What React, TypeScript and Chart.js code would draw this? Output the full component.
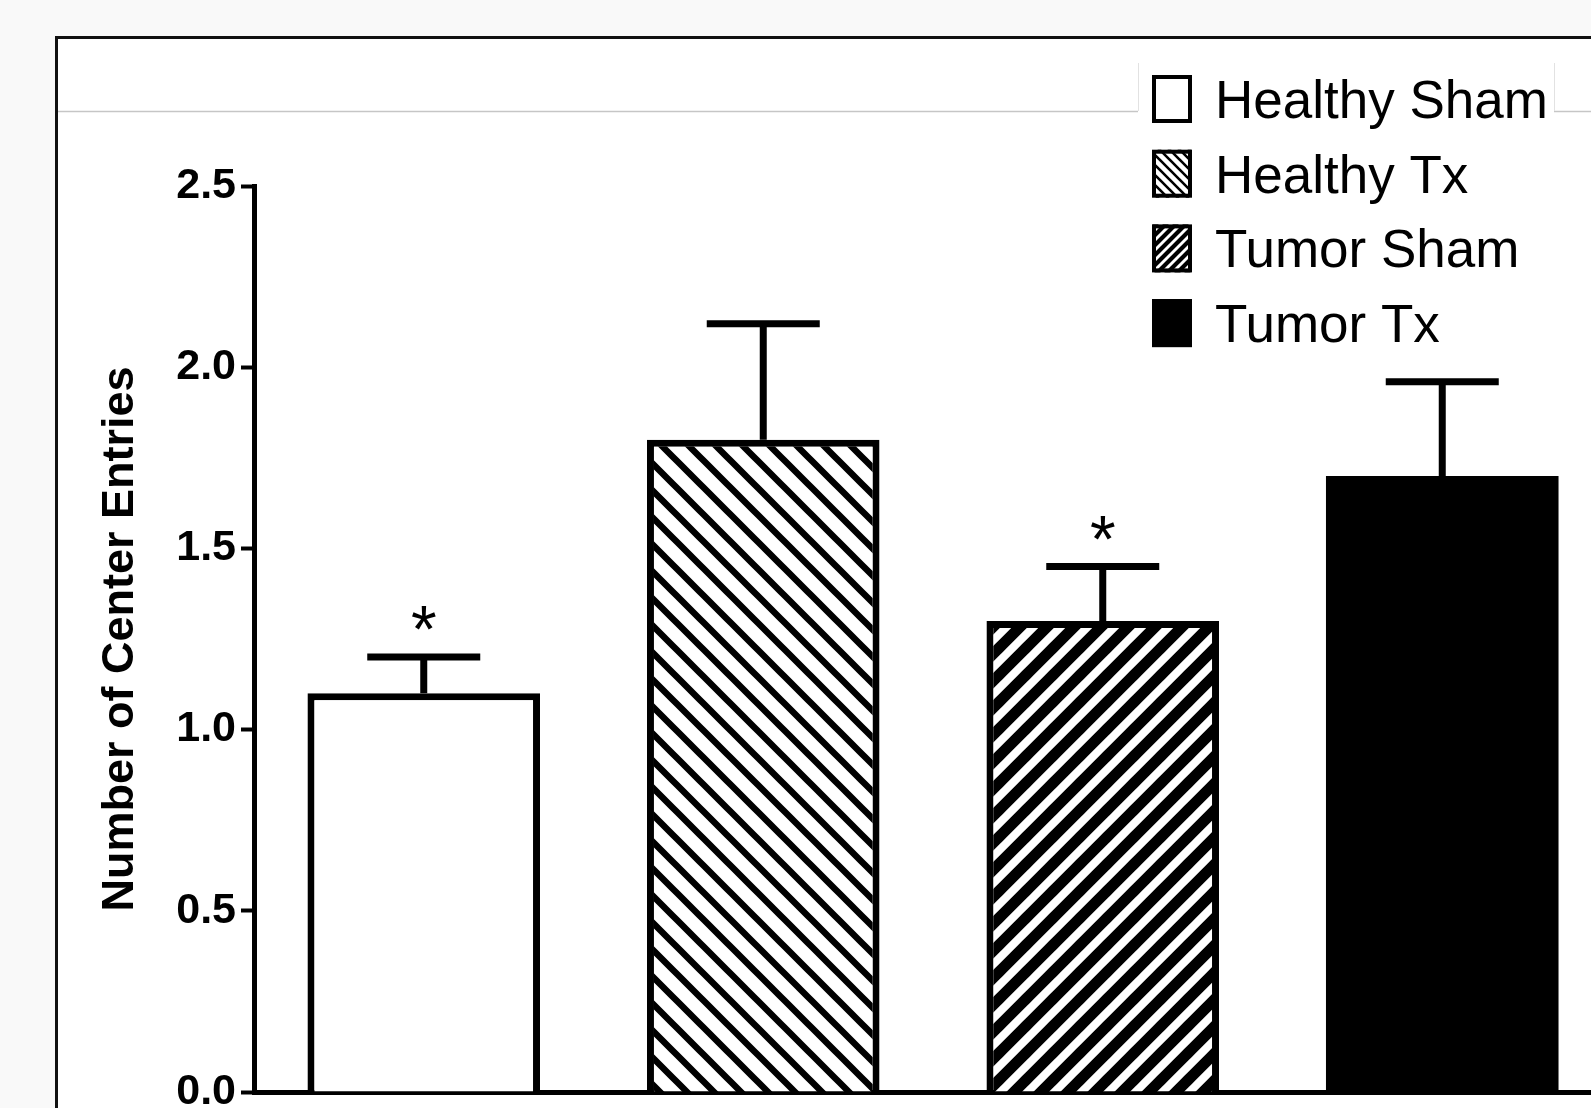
import React, { useEffect, useRef } from 'react';
import { Chart, registerables } from 'chart.js';

Chart.register(...registerables);

// ---- data ----
const categories = ['Healthy Sham', 'Healthy Tx', 'Tumor Sham', 'Tumor Tx'];
const meanValues = [1.1, 1.8, 1.3, 1.7];
const semValues = [0.1, 0.32, 0.15, 0.26];
const significant = [true, false, true, false];
const yTickValues = [0, 0.5, 1.0, 1.5, 2.0, 2.5];
const yAxisTitle = 'Number of Center Entries';

const FONT = "'Liberation Sans', Arial, Helvetica, sans-serif";

function stripe(
  ctx: CanvasRenderingContext2D,
  dir: 'back' | 'fwd',
  period: number,
  lw: number
): CanvasPattern {
  const c = document.createElement('canvas');
  c.width = period;
  c.height = period;
  const g = c.getContext('2d')!;
  g.fillStyle = '#ffffff';
  g.fillRect(0, 0, period, period);
  g.strokeStyle = '#000000';
  g.lineWidth = lw;
  g.lineCap = 'square';
  g.beginPath();
  for (const o of [-period, 0, period]) {
    if (dir === 'back') {
      g.moveTo(o, 0);
      g.lineTo(o + period, period);
    } else {
      g.moveTo(o, period);
      g.lineTo(o + period, 0);
    }
  }
  g.stroke();
  return ctx.createPattern(c, 'repeat')!;
}

export default function App() {
  const ref = useRef<HTMLCanvasElement>(null);

  useEffect(() => {
    const canvas = ref.current!;
    const ctx = canvas.getContext('2d')!;
    const barFills: (string | CanvasPattern)[] = [
      '#ffffff',
      stripe(ctx, 'back', 27, 6.5),
      stripe(ctx, 'fwd', 27, 11),
      '#000000',
    ];
    const legendFills: (string | CanvasPattern)[] = [
      '#ffffff',
      stripe(ctx, 'back', 10, 2.6),
      stripe(ctx, 'fwd', 10, 4.2),
      '#000000',
    ];

    const framePlugin = {
      id: 'frame',
      beforeDraw(chart: any) {
        const { ctx: c, width, height } = chart;
        c.save();
        c.fillStyle = '#f9f9f9';
        c.fillRect(0, 0, width, height);
        c.fillStyle = '#ffffff';
        c.fillRect(56, 37, width, height);
        c.strokeStyle = '#111111';
        c.lineWidth = 3;
        c.beginPath();
        c.moveTo(56.5, height + 5);
        c.lineTo(56.5, 37.5);
        c.lineTo(width + 5, 37.5);
        c.stroke();
        c.strokeStyle = '#c6c6c6';
        c.lineWidth = 1.5;
        c.beginPath();
        c.moveTo(58, 111.5);
        c.lineTo(1138, 111.5);
        c.moveTo(1554, 111.5);
        c.lineTo(width, 111.5);
        c.stroke();
        c.strokeStyle = '#e2e2e2';
        c.lineWidth = 1;
        c.beginPath();
        c.moveTo(1138.5, 63);
        c.lineTo(1138.5, 111);
        c.moveTo(1554.5, 63);
        c.lineTo(1554.5, 111);
        c.stroke();
        c.restore();
      },
    };

    const errorBarPlugin = {
      id: 'errorBars',
      afterDatasetsDraw(chart: any) {
        const meta = chart.getDatasetMeta(0);
        const yScale = chart.scales.y;
        const c = chart.ctx;
        c.save();
        c.strokeStyle = '#000000';
        c.fillStyle = '#000000';
        c.lineWidth = 7;
        c.lineCap = 'butt';
        meta.data.forEach((bar: any, i: number) => {
          const top = yScale.getPixelForValue(meanValues[i]);
          const cap = yScale.getPixelForValue(meanValues[i] + semValues[i]);
          const half = 56.5;
          c.beginPath();
          c.moveTo(bar.x, top);
          c.lineTo(bar.x, cap);
          c.moveTo(bar.x - half, cap);
          c.lineTo(bar.x + half, cap);
          c.stroke();
          if (significant[i]) {
            c.font = `66px ${FONT}`;
            c.textAlign = 'center';
            c.textBaseline = 'alphabetic';
            c.fillText('*', bar.x, cap - 5);
          }
        });
        c.restore();
      },
    };

    const legendPlugin = {
      id: 'customLegend',
      afterDraw(chart: any) {
        const c = chart.ctx;
        const boxX = 1152;
        const boxW = 40;
        const boxH = 48;
        const firstTop = 75;
        const pitch = 74.7;
        const textX = 1215;
        c.save();
        categories.forEach((label, i) => {
          const y = firstTop + i * pitch;
          c.fillStyle = legendFills[i];
          c.fillRect(boxX, y, boxW, boxH);
          c.strokeStyle = '#000000';
          c.lineWidth = 4;
          c.strokeRect(boxX + 2, y + 2, boxW - 4, boxH - 4);
          c.fillStyle = '#000000';
          c.font = `53px ${FONT}`;
          c.textAlign = 'left';
          c.textBaseline = 'alphabetic';
          c.fillText(label, textX, y + boxH / 2 + 19);
        });
        c.restore();
      },
    };

    const chart = new Chart(canvas, {
      type: 'bar',
      data: {
        labels: categories,
        datasets: [
          {
            label: 'Center entries',
            data: meanValues,
            backgroundColor: barFills as any,
            borderColor: '#000000',
            borderWidth: [7, 7, 7, 0],
            borderSkipped: 'start',
            barPercentage: 0.685,
            categoryPercentage: 1,
          },
        ],
      },
      options: {
        animation: false,
        responsive: false,
        devicePixelRatio: 1,
        layout: { padding: { left: 0, top: 186, right: 28, bottom: 16 } },
        plugins: {
          legend: { display: false },
          tooltip: { enabled: false },
          title: { display: false },
        },
        scales: {
          x: {
            type: 'category',
            z: 1,
            ticks: { display: false },
            grid: { display: false },
            border: { display: true, width: 5, color: '#000000' },
            afterFit: (s: any) => {
              s.height = 0;
              s.paddingLeft = 0;
              s.paddingRight = 0;
            },
          },
          y: {
            min: 0,
            max: 2.5,
            afterBuildTicks: (s: any) => {
              s.ticks = yTickValues.map((v) => ({ value: v }));
            },
            ticks: {
              color: '#000000',
              font: { family: FONT, size: 43, weight: 'bold' },
              padding: 5,
              callback: (v: any) => Number(v).toFixed(1),
            },
            grid: {
              drawOnChartArea: false,
              drawTicks: true,
              tickLength: 13,
              tickWidth: 4,
              tickColor: '#000000',
            },
            border: { display: true, width: 5, color: '#000000' },
            title: {
              display: true,
              text: yAxisTitle,
              color: '#000000',
              font: { family: FONT, size: 45, weight: 'bold' },
              padding: { top: 94, bottom: 0 },
            },
            afterFit: (s: any) => {
              s.width = 254;
              s.paddingTop = 0;
              s.paddingBottom = 0;
            },
          },
        },
      },
      plugins: [framePlugin, errorBarPlugin, legendPlugin],
    });

    return () => chart.destroy();
  }, []);

  return (
    <div
      style={{
        position: 'fixed',
        left: 0,
        top: 0,
        width: 1591,
        height: 1108,
        overflow: 'hidden',
        background: '#f9f9f9',
      }}
    >
      <canvas ref={ref} width={1640} height={1108} style={{ display: 'block' }} />
    </div>
  );
}
